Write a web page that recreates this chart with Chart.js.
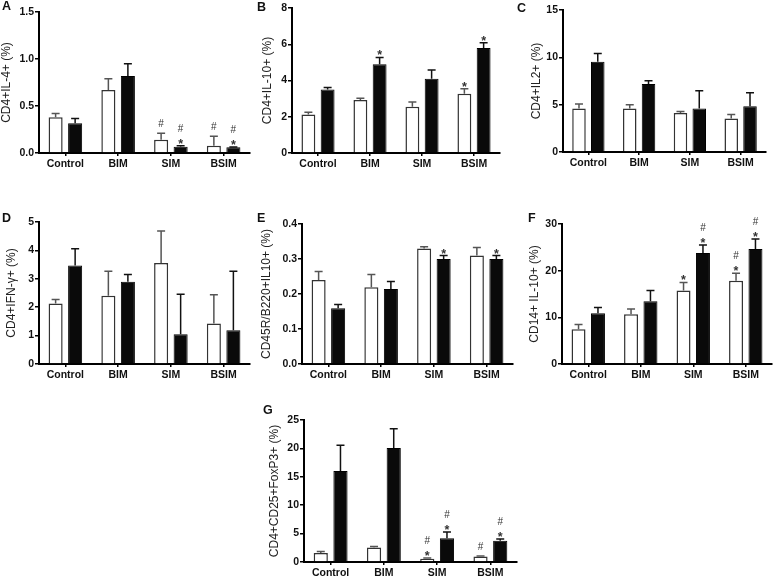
<!DOCTYPE html>
<html lang="en">
<head>
<meta charset="UTF-8">
<title>Cytokine panels A-G</title>
<script src="https://cdn.jsdelivr.net/npm/chart.js@4"></script>
<style>
  body { margin: 0; background: #fff; }
  #fig { position: relative; width: 779px; height: 580px; overflow: hidden; background: #fff; }
  #fig canvas { position: absolute; }
  .letter { position: absolute; font: bold 12.5px "Liberation Sans", Arial, sans-serif; line-height: 12px; color: #111; }
</style>
</head>
<body>
<div id="fig"></div>
<script>
const groups = ['Control', 'BIM', 'SIM', 'BSIM'];

// A: CD4+IL-4+
const aOpen = [0.38, 0.67, 0.14, 0.077];
const aOpenErr = [0.04, 0.12, 0.07, 0.10];
const aFilled = [0.317, 0.82, 0.067, 0.06];
const aFilledErr = [0.05, 0.13, 0.01, 0.005];
const aOpenMarks = ['', '', '#', '#'];
const aFilledMarks = ['', '', '#*', '#*'];
const aTicks = [0, 0.5, 1.0, 1.5];

// B: CD4+IL-10+
const bOpen = [2.13, 2.92, 2.55, 3.27];
const bOpenErr = [0.12, 0.1, 0.26, 0.28];
const bFilled = [3.5, 4.9, 4.1, 5.8];
const bFilledErr = [0.11, 0.37, 0.48, 0.28];
const bOpenMarks = ['', '', '', '*'];
const bFilledMarks = ['', '*', '', '*'];
const bTicks = [0, 2, 4, 6, 8];

// C: CD4+IL2+
const cOpen = [4.59, 4.59, 4.13, 3.53];
const cOpenErr = [0.49, 0.39, 0.14, 0.42];
const cFilled = [9.53, 7.17, 4.59, 4.84];
const cFilledErr = [0.88, 0.35, 1.87, 1.41];
const cOpenMarks = ['', '', '', ''];
const cFilledMarks = ['', '', '', ''];
const cTicks = [0, 5, 10, 15];

// D: CD4+IFN-γ+
const dOpen = [2.13, 2.4, 3.56, 1.43];
const dOpenErr = [0.14, 0.87, 1.12, 1.01];
const dFilled = [3.47, 2.9, 1.05, 1.19];
const dFilledErr = [0.59, 0.25, 1.41, 2.08];
const dOpenMarks = ['', '', '', ''];
const dFilledMarks = ['', '', '', ''];
const dTicks = [0, 1, 2, 3, 4, 5];

// E: CD45R/B220+IL10+
const eOpen = [0.24, 0.219, 0.33, 0.31];
const eOpenErr = [0.024, 0.037, 0.005, 0.023];
const eFilled = [0.159, 0.214, 0.30, 0.30];
const eFilledErr = [0.011, 0.022, 0.01, 0.01];
const eOpenMarks = ['', '', '', ''];
const eFilledMarks = ['', '', '*', '*'];
const eTicks = [0, 0.1, 0.2, 0.3, 0.4];

// F: CD14+ IL-10+
const fOpen = [7.44, 10.67, 15.75, 17.82];
const fOpenErr = [1.01, 1.13, 1.72, 1.65];
const fFilled = [10.88, 13.46, 23.77, 24.62];
const fFilledErr = [1.22, 2.29, 1.71, 2.15];
const fOpenMarks = ['', '', '*', '#*'];
const fFilledMarks = ['', '', '#*', '#*'];
const fTicks = [0, 10, 20, 30];

// G: CD4+CD25+FoxP3+
const gOpen = [1.58, 2.57, 0.58, 0.99];
const gOpenErr = [0.29, 0.18, 0.12, 0.06];
const gFilled = [16.0, 20.09, 4.2, 3.74];
const gFilledErr = [4.56, 3.39, 1.06, 0.29];
const gOpenMarks = ['', '', '#*', '#'];
const gFilledMarks = ['', '', '#*', '#*'];
const gTicks = [0, 5, 10, 15, 20, 25];

// panel layout: plot box in page pixels, gap from axis to title centre
const panels = [
  { id: 'A', title: 'CD4+IL-4+ (%)', open: aOpen, openErr: aOpenErr, filled: aFilled, filledErr: aFilledErr, openMarks: aOpenMarks, filledMarks: aFilledMarks, ticks: aTicks, dec: 1, box: [39, 250, 12, 153], gap: 32, letter: [2, 0] },
  { id: 'B', title: 'CD4+IL-10+ (%)', open: bOpen, openErr: bOpenErr, filled: bFilled, filledErr: bFilledErr, openMarks: bOpenMarks, filledMarks: bFilledMarks, ticks: bTicks, dec: 0, box: [292, 500, 8, 153], gap: 24, letter: [257, 1] },
  { id: 'C', title: 'CD4+IL2+ (%)', open: cOpen, openErr: cOpenErr, filled: cFilled, filledErr: cFilledErr, openMarks: cOpenMarks, filledMarks: cFilledMarks, ticks: cTicks, dec: 0, box: [563, 766, 10, 152], gap: 26, letter: [517, 1.5] },
  { id: 'D', title: 'CD4+IFN-\u03b3+ (%)', open: dOpen, openErr: dOpenErr, filled: dFilled, filledErr: dFilledErr, openMarks: dOpenMarks, filledMarks: dFilledMarks, ticks: dTicks, dec: 0, box: [39, 250, 222, 364], gap: 27, letter: [2, 211.5] },
  { id: 'E', title: 'CD45R/B220+IL10+ (%)', open: eOpen, openErr: eOpenErr, filled: eFilled, filledErr: eFilledErr, openMarks: eOpenMarks, filledMarks: eFilledMarks, ticks: eTicks, dec: 1, box: [302, 513, 224, 364], gap: 35, letter: [257, 211.5] },
  { id: 'F', title: 'CD14+ IL-10+ (%)', open: fOpen, openErr: fOpenErr, filled: fFilled, filledErr: fFilledErr, openMarks: fOpenMarks, filledMarks: fFilledMarks, ticks: fTicks, dec: 0, box: [562, 772, 224, 364], gap: 27, letter: [528, 211.5] },
  { id: 'G', title: 'CD4+CD25+FoxP3+ (%)', open: gOpen, openErr: gOpenErr, filled: gFilled, filledErr: gFilledErr, openMarks: gOpenMarks, filledMarks: gFilledMarks, ticks: gTicks, dec: 0, box: [304, 517, 420, 562], gap: 29, letter: [263, 404] }
];

const FONT = '"Liberation Sans", Arial, sans-serif';
const YW = 50, PT = 10, PR = 4, XH = 26;
const TITLE_SIZE = 12;

// one-sided SEM bars plus significance marks, placed with the chart's own y scale
const errorBars = {
  id: 'errorBars',
  afterDatasetsDraw(chart) {
    const ctx = chart.ctx;
    const y = chart.scales.y;
    chart.data.datasets.forEach((ds, i) => {
      const meta = chart.getDatasetMeta(i);
      meta.data.forEach((bar, j) => {
        const cap = y.getPixelForValue(ds.data[j] + ds.errors[j]);
        ctx.save();
        ctx.strokeStyle = ds.errorColor;
        ctx.lineWidth = 1.5;
        ctx.beginPath();
        ctx.moveTo(bar.x, bar.y);
        ctx.lineTo(bar.x, cap);
        ctx.moveTo(bar.x - 4, cap);
        ctx.lineTo(bar.x + 4, cap);
        ctx.stroke();

        const m = ds.marks[j];
        ctx.fillStyle = '#333';
        ctx.textAlign = 'center';
        ctx.textBaseline = 'alphabetic';
        if (m.includes('*')) {
          ctx.font = 'bold 12.5px ' + FONT;
          ctx.fillText('*', bar.x, cap + 2);
        }
        if (m.includes('#')) {
          ctx.font = '10px ' + FONT;
          ctx.fillText('#', bar.x, m.includes('*') ? cap - 14 : cap - 6);
        }
        ctx.restore();
      });
    });
  }
};

const fig = document.getElementById('fig');

panels.forEach(p => {
  const [x0, x1, y0, y1] = p.box;
  const left = x0 - YW, top = y0 - PT;
  const w = x1 - left + PR, h = y1 - top + XH;

  const canvas = document.createElement('canvas');
  canvas.width = w; canvas.height = h;
  canvas.style.left = left + 'px'; canvas.style.top = top + 'px';
  canvas.style.width = w + 'px'; canvas.style.height = h + 'px';
  fig.appendChild(canvas);

  const letter = document.createElement('div');
  letter.className = 'letter';
  letter.textContent = p.id;
  letter.style.left = p.letter[0] + 'px';
  letter.style.top = p.letter[1] + 'px';
  fig.appendChild(letter);

  const titlePad = YW - p.gap - TITLE_SIZE * 1.2 / 2;

  new Chart(canvas, {
    type: 'bar',
    data: {
      labels: groups,
      datasets: [
        {
          data: p.open, errors: p.openErr, marks: p.openMarks,
          backgroundColor: '#fff', borderColor: '#333', borderWidth: 1.5,
          errorColor: '#555', categoryPercentage: 0.74, barPercentage: 0.72
        },
        {
          data: p.filled, errors: p.filledErr, marks: p.filledMarks,
          backgroundColor: '#0a0a0a', borderColor: '#000', borderWidth: 1,
          errorColor: '#111', categoryPercentage: 0.74, barPercentage: 0.72
        }
      ]
    },
    options: {
      responsive: false,
      animation: false,
      events: [],
      layout: { padding: { left: 0, top: PT, right: PR, bottom: 0 } },
      plugins: { legend: { display: false }, tooltip: { enabled: false } },
      scales: {
        x: {
          afterFit: s => { s.height = XH; },
          grid: { display: true, drawOnChartArea: false, drawTicks: true, tickLength: 3, offset: false, color: '#000', lineWidth: 1.5 },
          border: { display: true, color: '#000', width: 2 },
          ticks: { padding: 2, color: '#111', font: { family: FONT, size: 10.5, weight: 'bold' }, maxRotation: 0, autoSkip: false }
        },
        y: {
          min: p.ticks[0],
          max: p.ticks[p.ticks.length - 1],
          afterFit: s => { s.width = YW; },
          afterBuildTicks: s => { s.ticks = p.ticks.map(v => ({ value: v })); },
          grid: { display: true, drawOnChartArea: false, drawTicks: true, tickLength: 4, color: '#000', lineWidth: 1.5 },
          border: { display: true, color: '#000', width: 2 },
          ticks: { padding: 1, color: '#111', font: { family: FONT, size: 10.5, weight: 'bold' }, callback: v => Number(v).toFixed(p.dec) },
          title: { display: true, text: p.title, color: '#222', padding: { top: titlePad, bottom: 0 }, font: { family: FONT, size: TITLE_SIZE } }
        }
      }
    },
    plugins: [errorBars]
  });
});
</script>
</body>
</html>
